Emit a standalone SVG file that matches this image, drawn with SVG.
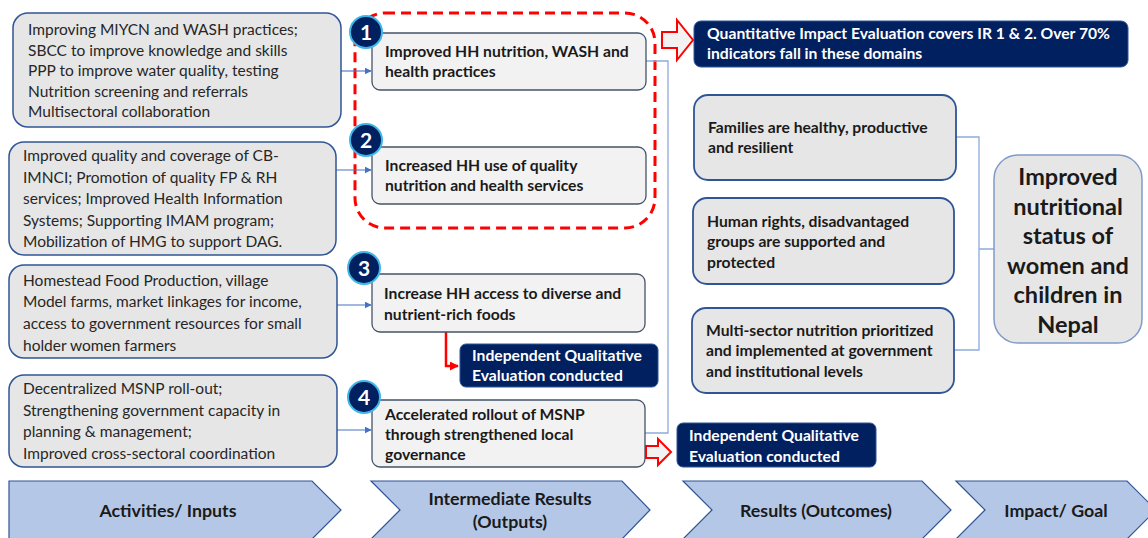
<svg xmlns="http://www.w3.org/2000/svg" width="1148" height="538" viewBox="0 0 1148 538">
  <defs>
    <style>
      .t { font-family: Lato, "Liberation Sans", sans-serif; font-size: 15.5px; fill: #262626; }
      .b { font-family: Lato, "Liberation Sans", sans-serif; font-size: 15.7px; font-weight: bold; fill: #1a1a1a; }
      .w { font-family: Lato, "Liberation Sans", sans-serif; font-size: 15.7px; font-weight: bold; fill: #ffffff; }
      .goal { font-family: Lato, "Liberation Sans", sans-serif; font-size: 23.5px; font-weight: bold; fill: #1a1a1a; text-anchor: middle; }
      .num { font-family: Lato, "Liberation Sans", sans-serif; font-size: 21px; font-weight: bold; fill: #ffffff; text-anchor: middle; }
      .chev-t { font-family: Lato, "Liberation Sans", sans-serif; font-size: 17.8px; font-weight: bold; fill: #1a1a1a; text-anchor: middle; }
      .act { fill: #E7E6E6; stroke: #2F5597; stroke-width: 1.5; }
      .ir { fill: #F2F2F2; stroke: #44546A; stroke-width: 1.3; }
      .res { fill: #E6E6E6; stroke: #2F5597; stroke-width: 1.8; }
      .navy { fill: #002060; stroke: #2F5597; stroke-width: 1; }
      .badge { fill: #002060; stroke: #3FB6E8; stroke-width: 2; }
      .chev { fill: #B4C7E7; stroke: #2F5597; stroke-width: 1.2; }
      .link { fill: none; stroke: #4472C4; stroke-width: 1.1; }
      .bracket { fill: none; stroke: #8FAADC; stroke-width: 1.3; }
      .block { fill: #F2F2F2; stroke: #FF0000; stroke-width: 2; stroke-linejoin: miter; }
    </style>
    <marker id="arrow-blue" viewBox="0 0 10 10" refX="9" refY="5" markerWidth="7" markerHeight="7" markerUnits="userSpaceOnUse" orient="auto">
      <path d="M0,0 L10,5 L0,10 z" fill="#4472C4"/>
    </marker>
    <marker id="arrow-red" viewBox="0 0 10 10" refX="9" refY="5" markerWidth="9" markerHeight="9" markerUnits="userSpaceOnUse" orient="auto">
      <path d="M0,0 L10,5 L0,10 z" fill="#FF0000"/>
    </marker>
  </defs>

  <rect width="1148" height="538" fill="#ffffff"/>

  <!-- Focus area of the quantitative evaluation (IR 1 and 2) -->
  <rect id="ir12-focus" x="355" y="13" width="300" height="215" rx="30" fill="none" stroke="#FF0000" stroke-width="3" stroke-dasharray="10 6"/>

  <!-- Connectors -->
  <g id="connectors">
    <path class="link" d="M341,71 H371" marker-end="url(#arrow-blue)"/>
    <path class="link" d="M336,170 H371" marker-end="url(#arrow-blue)"/>
    <path class="link" d="M337,305 H371" marker-end="url(#arrow-blue)"/>
    <path class="link" d="M337,430 H371" marker-end="url(#arrow-blue)"/>
    <path class="bracket" d="M646,61 H668 V433 H645"/>
    <path class="bracket" d="M956,137 H979 V350 H954 M979,249 H994"/>
    <path d="M446,332 V366 H458" fill="none" stroke="#FF0000" stroke-width="2.5" marker-end="url(#arrow-red)"/>
    <polygon class="block" points="662,32 677,32 677,20 693,40 677,60 677,48 662,48"/>
    <polygon class="block" points="646,446 658,446 658,439 671,452 658,465 658,458 646,458"/>
  </g>

  <!-- Activities / inputs -->
  <g id="act-1">
    <rect class="act" x="13" y="13" width="328" height="114" rx="15"/>
    <text class="t" x="28" y="35">Improving MIYCN and WASH practices;</text>
    <text class="t" x="28" y="55.5">SBCC to improve knowledge and skills</text>
    <text class="t" x="28" y="76">PPP to improve water quality, testing</text>
    <text class="t" x="28" y="96.5">Nutrition screening and referrals</text>
    <text class="t" x="28" y="117">Multisectoral collaboration</text>
  </g>
  <g id="act-2">
    <rect class="act" x="9" y="142" width="327" height="113" rx="15"/>
    <text class="t" x="23" y="161">Improved quality and coverage of CB-</text>
    <text class="t" x="23" y="182.5">IMNCI; Promotion of quality FP &amp; RH</text>
    <text class="t" x="23" y="204">services; Improved Health Information</text>
    <text class="t" x="23" y="225.5">Systems; Supporting IMAM program;</text>
    <text class="t" x="23" y="247">Mobilization of HMG to support DAG.</text>
  </g>
  <g id="act-3">
    <rect class="act" x="9" y="265" width="328" height="93" rx="15"/>
    <text class="t" x="23" y="285.5">Homestead Food Production, village</text>
    <text class="t" x="23" y="307">Model farms, market linkages for income,</text>
    <text class="t" x="23" y="329">access to government resources for small</text>
    <text class="t" x="23" y="350.5">holder women farmers</text>
  </g>
  <g id="act-4">
    <rect class="act" x="9" y="375" width="328" height="92" rx="15"/>
    <text class="t" x="23" y="394">Decentralized MSNP roll-out;</text>
    <text class="t" x="23" y="415.5">Strengthening government capacity in</text>
    <text class="t" x="23" y="437">planning &amp; management;</text>
    <text class="t" x="23" y="459">Improved cross-sectoral coordination</text>
  </g>

  <!-- Intermediate results -->
  <g id="ir-1">
    <rect class="ir" x="372" y="33" width="274" height="57" rx="8"/>
    <text class="b" x="385" y="57.3">Improved HH nutrition, WASH and</text>
    <text class="b" x="385" y="77.3">health practices</text>
    <circle class="badge" cx="366" cy="32" r="16"/>
    <text class="num" x="366" y="39.5">1</text>
  </g>
  <g id="ir-2">
    <rect class="ir" x="372" y="147" width="274" height="57" rx="8"/>
    <text class="b" x="385" y="171.3">Increased HH use of quality</text>
    <text class="b" x="385" y="191.3">nutrition and health services</text>
    <circle class="badge" cx="366" cy="140" r="16"/>
    <text class="num" x="366" y="147.5">2</text>
  </g>
  <g id="ir-3">
    <rect class="ir" x="372" y="274" width="273" height="58" rx="8"/>
    <text class="b" x="384" y="299">Increase HH access to diverse and</text>
    <text class="b" x="384" y="319.7">nutrient-rich foods</text>
    <circle class="badge" cx="364" cy="268" r="16"/>
    <text class="num" x="364" y="275.5">3</text>
  </g>
  <g id="ir-4">
    <rect class="ir" x="372" y="400" width="273" height="67" rx="8"/>
    <text class="b" x="385" y="419.7">Accelerated rollout of MSNP</text>
    <text class="b" x="385" y="439.7">through strengthened local</text>
    <text class="b" x="385" y="459.5">governance</text>
    <circle class="badge" cx="364" cy="397" r="16"/>
    <text class="num" x="364" y="404.5">4</text>
  </g>

  <!-- Evaluation notes -->
  <g id="eval-quant">
    <rect class="navy" x="694" y="21" width="434" height="46" rx="7"/>
    <text class="w" x="707" y="39">Quantitative Impact Evaluation covers IR 1 &amp; 2. Over 70%</text>
    <text class="w" x="707" y="59">indicators fall in these domains</text>
  </g>
  <g id="eval-qual-3">
    <rect class="navy" x="460" y="344" width="198" height="43" rx="6"/>
    <text class="w" x="472" y="360.7">Independent Qualitative</text>
    <text class="w" x="472" y="380.7">Evaluation conducted</text>
  </g>
  <g id="eval-qual-4">
    <rect class="navy" x="677" y="423" width="199" height="44" rx="6"/>
    <text class="w" x="689" y="441.3">Independent Qualitative</text>
    <text class="w" x="689" y="461.7">Evaluation conducted</text>
  </g>

  <!-- Results / outcomes -->
  <g id="res-1">
    <rect class="res" x="694" y="95" width="262" height="85" rx="14"/>
    <text class="b" x="708" y="133.3">Families are healthy, productive</text>
    <text class="b" x="708" y="153.3">and resilient</text>
  </g>
  <g id="res-2">
    <rect class="res" x="693" y="198" width="261" height="86" rx="14"/>
    <text class="b" x="707" y="226.7">Human rights, disadvantaged</text>
    <text class="b" x="707" y="247.3">groups are supported and</text>
    <text class="b" x="707" y="267.7">protected</text>
  </g>
  <g id="res-3">
    <rect class="res" x="692" y="308" width="262" height="85" rx="14"/>
    <text class="b" x="706" y="335.7">Multi-sector nutrition prioritized</text>
    <text class="b" x="706" y="356.3">and implemented at government</text>
    <text class="b" x="706" y="376.7">and institutional levels</text>
  </g>

  <!-- Impact / goal -->
  <g id="goal">
    <rect x="994" y="155" width="148" height="188" rx="24" fill="#E7E6E6" stroke="#7F9BC8" stroke-width="1.5"/>
    <text class="goal" x="1068" y="185">Improved</text>
    <text class="goal" x="1068" y="214.5">nutritional</text>
    <text class="goal" x="1068" y="244">status of</text>
    <text class="goal" x="1068" y="273.5">women and</text>
    <text class="goal" x="1068" y="303">children in</text>
    <text class="goal" x="1068" y="332.5">Nepal</text>
  </g>

  <!-- Results-chain stages -->
  <g id="stage-activities">
    <polygon class="chev" points="9,481 312,481 341,510 312,539 9,539"/>
    <text class="chev-t" x="168" y="517">Activities/ Inputs</text>
  </g>
  <g id="stage-ir">
    <polygon class="chev" points="371,481 622,481 650,510 622,539 371,539 400,510"/>
    <text class="chev-t" x="510" y="505">Intermediate Results</text>
    <text class="chev-t" x="510" y="528">(Outputs)</text>
  </g>
  <g id="stage-results">
    <polygon class="chev" points="683,481 922,481 951,510 922,539 683,539 712,510"/>
    <text class="chev-t" x="816" y="517">Results (Outcomes)</text>
  </g>
  <g id="stage-impact">
    <polygon class="chev" points="956,481 1127,481 1156,510 1127,539 956,539 985,510"/>
    <text class="chev-t" x="1056" y="517">Impact/ Goal</text>
  </g>
</svg>
